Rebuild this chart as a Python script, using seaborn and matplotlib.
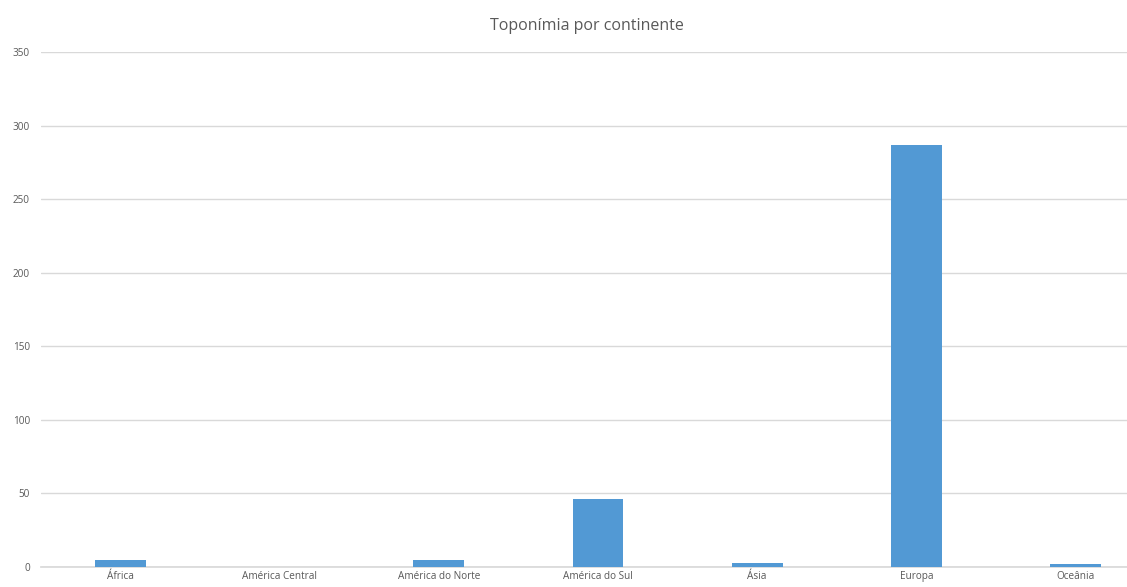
import matplotlib
matplotlib.use("Agg")
import matplotlib.pyplot as plt
import seaborn as sns
import pandas as pd

# dados
continentes = ["África", "América Central", "América do Norte", "América do Sul",
               "Ásia", "Europa", "Oceânia"]
contagens = [5, 0, 5, 46, 3, 287, 2]

df = pd.DataFrame({"continente": continentes, "n": contagens})

sns.set_theme(style="white")
plt.rcParams["font.family"] = ["Open Sans", "DejaVu Sans"]

fig = plt.figure(figsize=(11.27, 5.87), dpi=100)
ax = fig.add_axes([41 / 1127, 20 / 587, 1114 / 1127, 515 / 587])

sns.barplot(data=df, x="continente", y="n", color="#5299D4", width=0.32,
            saturation=1, linewidth=0, zorder=3, ax=ax)

ax.set_xlim(-0.5, 6.5)
ax.set_ylim(0, 350)
ax.set_yticks(range(0, 351, 50))
ax.yaxis.grid(True, color="#d9d9d9", linewidth=1)
ax.set_axisbelow(True)
for s in ["top", "right", "left"]:
    ax.spines[s].set_visible(False)
ax.spines["bottom"].set_color("#d9d9d9")
ax.set_xlabel("")
ax.set_ylabel("")
ax.tick_params(axis="both", length=0, labelsize=7.2, labelcolor="#595959")
ax.tick_params(axis="y", pad=8)
ax.tick_params(axis="x", pad=3)

fig.text(587 / 1127, 1 - 26 / 587, "Toponímia por continente", ha="center",
         va="center", fontsize=11.5, color="#595959")

fig.savefig("out.png", dpi=100)
